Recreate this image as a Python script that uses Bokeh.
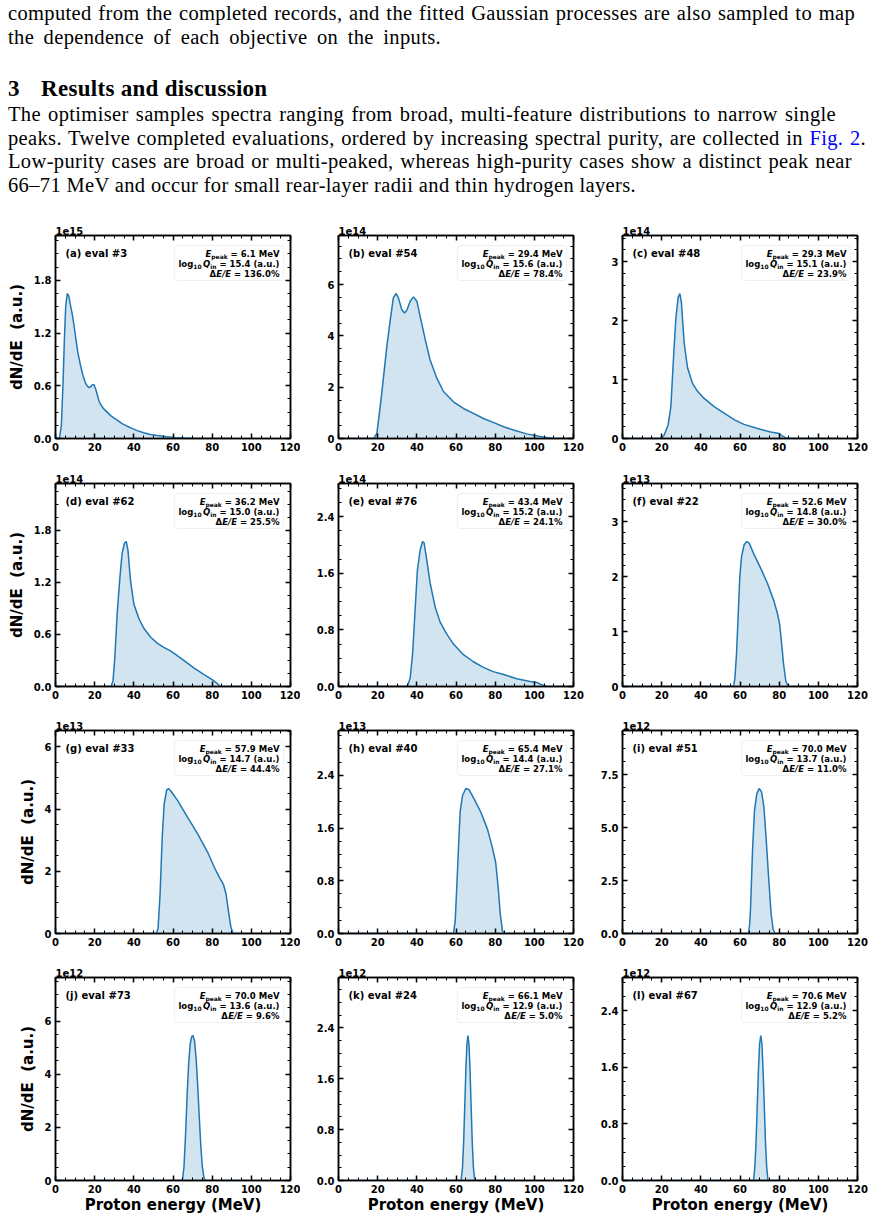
from bokeh.plotting import figure
from bokeh.models import (Range1d, LinearAxis, FixedTicker, Label, BoxAnnotation,
                          Div, PrintfTickFormatter)
from bokeh.layouts import column, row
from bokeh.embed import file_html
from bokeh.resources import INLINE

# ---------------------------------------------------------------------------
# Proton spectra: energy (MeV) and dN/dE in units of 10**scale_exponent
# ---------------------------------------------------------------------------
energy_a = [0, 2.0, 3.0, 3.8, 4.5, 5.2, 6.0, 6.8, 7.6, 8.5, 9.5, 10.5, 11.4, 12.8,
            14.0, 15.3, 16.3, 17.2, 18.0, 18.8, 19.6, 20.4, 21.3, 22.2, 23.0, 24.5,
            26.4, 28.5, 31.5, 34.0, 36.6, 39.0, 41.7, 45.0, 48.5, 52.0, 57.0, 61.0,
            65.5, 70.0, 74.0, 90.0]
dnde_a = [0, 0, 0.15, 0.6, 1.1, 1.5, 1.65, 1.62, 1.52, 1.42, 1.28, 1.12, 0.98, 0.83,
          0.72, 0.63, 0.595, 0.58, 0.59, 0.61, 0.615, 0.57, 0.5, 0.43, 0.39, 0.34,
          0.30, 0.255, 0.21, 0.17, 0.14, 0.115, 0.09, 0.065, 0.046, 0.033, 0.02, 0.012,
          0.005, 0.002, 0, 0]

energy_b = [0, 18.0, 19.6, 21.3, 23.0, 24.7, 26.4, 28.0, 29.4, 30.6, 32.3, 33.7, 34.9,
            36.6, 38.3, 40.0, 41.7, 44.3, 46.8, 50.2, 53.6, 58.7, 63.8, 68.9, 74.0,
            79.0, 84.3, 89.4, 96.0, 103.0, 109.8, 120.0]
dnde_b = [0, 0, 0.2, 1.24, 2.4, 3.6, 4.6, 5.48, 5.65, 5.48, 5.02, 4.89, 5.0, 5.35,
          5.52, 5.35, 4.76, 3.85, 3.06, 2.35, 1.83, 1.43, 1.17, 0.98, 0.78, 0.63,
          0.46, 0.33, 0.18, 0.08, 0, 0]

energy_c = [0, 19.6, 21.3, 23.3, 24.7, 26.0, 27.2, 28.4, 29.3, 30.1, 30.8, 31.5, 33.2,
            35.7, 38.3, 41.7, 46.8, 51.9, 57.0, 62.0, 69.0, 75.7, 80.0, 81.7, 84.3, 110.0]
dnde_c = [0, 0, 0.06, 0.23, 0.54, 1.34, 2.02, 2.39, 2.46, 2.3, 1.95, 1.62, 1.2,
          0.94, 0.8, 0.68, 0.54, 0.43, 0.32, 0.24, 0.17, 0.11, 0.085, 0.04, 0, 0]

energy_d = [0, 28.4, 29.4, 30.3, 31.5, 32.9, 34.0, 35.2, 36.1, 37.0, 38.3, 40.0, 42.6,
            45.1, 48.5, 51.9, 55.3, 58.7, 61.3, 65.5, 70.6, 75.7, 80.0, 81.7, 84.3, 109.0]
dnde_d = [0, 0, 0.07, 0.34, 0.84, 1.26, 1.53, 1.65, 1.67, 1.57, 1.22, 0.95, 0.78,
          0.67, 0.57, 0.5, 0.45, 0.41, 0.37, 0.30, 0.215, 0.14, 0.08, 0.05, 0, 0]

energy_e = [0, 35.2, 36.6, 37.8, 39.1, 40.3, 41.7, 42.9, 43.7, 44.8, 46.8, 49.4, 51.9,
            55.3, 58.7, 63.8, 68.9, 74.0, 79.0, 84.3, 91.0, 97.9, 101.3, 103.8, 106.4, 120.0]
dnde_e = [0, 0, 0.12, 0.45, 1.07, 1.65, 1.93, 2.05, 2.03, 1.84, 1.46, 1.12, 0.91,
          0.74, 0.6, 0.45, 0.35, 0.27, 0.21, 0.17, 0.11, 0.072, 0.057, 0.024, 0, 0]

energy_f = [0, 56.7, 57.4, 58.2, 59.1, 59.9, 60.8, 62.1, 63.5, 64.7, 67.2, 70.6, 74.0,
            77.4, 79.1, 80.3, 81.2, 82.2, 83.4, 84.6, 107.0]
dnde_f = [0, 0, 0.15, 0.58, 1.32, 2.0, 2.37, 2.58, 2.64, 2.61, 2.4, 2.15, 1.88,
          1.55, 1.33, 1.12, 0.8, 0.42, 0.1, 0, 0]

energy_g = [0, 51.6, 52.4, 53.4, 54.5, 55.5, 56.7, 57.7, 58.9, 62.3, 67.4, 72.6, 77.7,
            81.1, 83.6, 85.7, 87.1, 88.3, 89.6, 90.8, 117.8]
dnde_g = [0, 0, 0.19, 1.27, 3.1, 4.17, 4.6, 4.66, 4.58, 4.28, 3.74, 3.2, 2.61,
          2.13, 1.81, 1.59, 1.27, 0.73, 0.19, 0, 0]

energy_h = [0, 58.7, 59.6, 60.4, 61.3, 62.1, 63.3, 65.0, 66.7, 69.3, 72.7, 76.1, 78.6,
            80.3, 81.5, 82.6, 83.7, 84.9, 107.6]
dnde_h = [0, 0, 0.19, 0.71, 1.32, 1.84, 2.09, 2.2, 2.18, 2.04, 1.84, 1.58, 1.3,
          1.07, 0.71, 0.3, 0.04, 0, 0]

energy_i = [0, 64.3, 64.9, 65.4, 66.4, 67.4, 68.6, 69.8, 71.0, 72.2, 73.3, 74.5, 75.9,
            76.9, 77.9, 98.3]
dnde_i = [0, 0, 0.4, 1.23, 3.92, 5.81, 6.6, 6.84, 6.68, 5.97, 4.55, 2.81, 0.92,
          0.2, 0, 0]

energy_j = [0, 64.8, 65.6, 66.4, 67.2, 68.0, 68.8, 69.6, 70.2, 71.0, 71.8, 72.6, 73.4,
            74.2, 75.0, 75.8, 76.6, 98.0]
dnde_j = [0, 0, 0.5, 1.7, 3.2, 4.4, 5.15, 5.43, 5.46, 5.25, 4.6, 3.6, 2.4,
          1.3, 0.5, 0.1, 0, 0]

energy_k = [0, 62.6, 63.3, 63.9, 64.5, 65.1, 65.6, 66.1, 66.6, 67.1, 67.7, 68.3, 68.9,
            69.6, 90.0]
dnde_k = [0, 0, 0.2, 0.6, 1.2, 1.8, 2.15, 2.28, 2.15, 1.8, 1.2, 0.6, 0.2, 0, 0]

energy_l = [0, 66.9, 67.6, 68.2, 68.8, 69.4, 70.0, 70.6, 71.2, 71.8, 72.4, 73.0, 73.6,
            74.3, 97.0]
dnde_l = [0, 0, 0.2, 0.55, 1.05, 1.55, 1.93, 2.05, 1.93, 1.55, 1.05, 0.55, 0.2, 0, 0]

spectra = [(energy_a, dnde_a), (energy_b, dnde_b), (energy_c, dnde_c),
           (energy_d, dnde_d), (energy_e, dnde_e), (energy_f, dnde_f),
           (energy_g, dnde_g), (energy_h, dnde_h), (energy_i, dnde_i),
           (energy_j, dnde_j), (energy_k, dnde_k), (energy_l, dnde_l)]

panel_tags = ["(a) eval #3", "(b) eval #54", "(c) eval #48", "(d) eval #62",
              "(e) eval #76", "(f) eval #22", "(g) eval #33", "(h) eval #40",
              "(i) eval #51", "(j) eval #73", "(k) eval #24", "(l) eval #67"]
e_peak_mev = [6.1, 29.4, 29.3, 36.2, 43.4, 52.6, 57.9, 65.4, 70.0, 70.0, 66.1, 70.6]
log10_q_in = [15.4, 15.6, 15.1, 15.0, 15.2, 14.8, 14.7, 14.4, 13.7, 13.6, 12.9, 12.9]
energy_spread_pct = [136.0, 78.4, 23.9, 25.5, 24.1, 30.0, 44.4, 27.1, 11.0, 9.6, 5.0, 5.2]
scale_exponent = [15, 14, 14, 14, 14, 13, 13, 13, 12, 12, 12, 12]
y_major_step = [0.6, 2, 1, 0.6, 0.8, 1, 2, 0.8, 2.5, 2, 0.8, 0.8]
y_label_decimals = [1, 0, 0, 1, 1, 0, 0, 1, 1, 0, 1, 1]

x_major_ticks = [0, 20, 40, 60, 80, 100, 120]
x_minor_ticks = [5, 10, 15, 25, 30, 35, 45, 50, 55, 65, 70, 75, 85, 90, 95, 105, 110, 115]

x_label = "Proton energy (MeV)"
y_label = "dN/dE\u00a0 (a.u.)"

# ---------------------------------------------------------------------------
# Styling / layout
# ---------------------------------------------------------------------------
FONT = "DejaVu Sans"
BLUE = "#1f77b4"
FRAME_W, FRAME_H = 235, 203
X_MAX = 120
COL_LEFT = [55, 38, 32]
COL_RIGHT = [10, 17, 17]
ROW_TOP = [30, 28, 27, 27]
ROW_BOTTOM = [17, 17, 17, 39]
INFO_SIZE = 8.5
SPACE_EM = 0.348

# advance widths (em) of DejaVu Sans Bold, used to lay out mixed-style text
CHAR_EM = {' ': SPACE_EM, '#': 0.838, '%': 1.002, '(': 0.457, ')': 0.457, '.': 0.380,
           '/': 0.365, '=': 0.838, 'E': 0.683, 'M': 0.995, 'N': 0.837, 'Q': 0.850,
           'V': 0.774, 'a': 0.675, 'd': 0.716, 'e': 0.678, 'g': 0.716, 'i': 0.343,
           'k': 0.665, 'l': 0.343, 'n': 0.712, 'o': 0.687, 'p': 0.716, 'u': 0.712,
           '\u0394': 0.80}
for _d in "0123456789":
    CHAR_EM[_d] = 0.696


def text_width(s, size):
    return sum(CHAR_EM.get(ch, 0.68) for ch in s) * size


def y_ticks(step, top):
    majors, k = [], 0
    while k * step <= top + 1e-9:
        majors.append(round(k * step, 6))
        k += 1
    mant = step / 10 ** int(f"{step:e}".split("e")[1])
    ndiv = 5 if abs(mant - 1) < 1e-6 or abs(mant - 5) < 1e-6 else 4
    minors, k = [], 1
    while k * step / ndiv <= top + 1e-9:
        if k % ndiv:
            minors.append(round(k * step / ndiv, 6))
        k += 1
    return majors, minors


def styled_axis(ticker, formatter, show_labels):
    ax = LinearAxis(
        ticker=ticker, formatter=formatter,
        axis_line_color="black", axis_line_width=1.5,
        major_tick_in=5, major_tick_out=0, major_tick_line_width=1.5,
        major_tick_line_color="black",
        minor_tick_in=3, minor_tick_out=0, minor_tick_line_width=1,
        minor_tick_line_color="black",
        major_label_text_font=FONT, major_label_text_font_style="bold",
        major_label_text_color="black",
        major_label_text_font_size="10px",
        major_label_standoff=4,
    )
    if not show_labels:
        # mirrored axis: ticks only
        ax.major_label_text_font_size = "1px"
        ax.major_label_text_alpha = 0
        ax.major_label_text_color = None
        ax.major_label_standoff = 0
    return ax


def add_info_box(p, i, ymax):
    sub = 2.0
    # (text, font style, size scale, baseline drop in px, gap before in em)
    lines = [
        [("E", "bold italic", 1.0, 0.0, 0.0), ("peak", "bold", 0.7, sub, 0.0),
         (f"= {e_peak_mev[i]:.1f} MeV", "bold", 1.0, 0.0, SPACE_EM)],
        [("log", "bold", 1.0, 0.0, 0.0), ("10", "bold", 0.7, sub, 0.0),
         ("Q", "bold italic", 1.0, 0.0, 0.17), ("in", "bold", 0.7, sub, 0.0),
         (f"= {log10_q_in[i]:.1f} (a.u.)", "bold", 1.0, 0.0, SPACE_EM)],
        [("\u0394", "bold", 1.0, 0.0, 0.0), ("E/E", "bold italic", 1.0, 0.0, 0.0),
         (f"= {energy_spread_pct[i]:.1f}%", "bold", 1.0, 0.0, SPACE_EM)],
    ]
    widths = [sum(text_width(t, INFO_SIZE * sc) + g * INFO_SIZE
                  for t, st, sc, dy, g in segs) for segs in lines]
    wmax = max(widths)
    right_text, pad = 11, 4
    px_x = X_MAX / FRAME_W
    px_y = ymax / FRAME_H
    p.add_layout(BoxAnnotation(
        left=X_MAX - (right_text + wmax + pad) * px_x, right=X_MAX - 7 * px_x,
        top=ymax - 10 * px_y, bottom=ymax - 45 * px_y,
        fill_color="white", fill_alpha=0.8, line_color="#cccccc", line_width=1,
        border_radius=3))
    baselines = [18.8, 28.8, 38.3]
    for segs, w, base in zip(lines, widths, baselines):
        cx = -(right_text + w)
        for t, st, sc, dy, g in segs:
            cx += g * INFO_SIZE
            p.add_layout(Label(
                x=X_MAX, y=ymax, x_offset=cx, y_offset=-(base + dy), text=t,
                text_font=FONT, text_font_style=st,
                text_font_size=f"{INFO_SIZE * sc:.2f}px", text_color="black",
                text_align="left", text_baseline="alphabetic"))
            cx += text_width(t, INFO_SIZE * sc)


def make_panel(i):
    r, c = divmod(i, 3)
    xs, ys = spectra[i]
    ymax = 1.4 * max(ys)
    p = figure(frame_width=FRAME_W, frame_height=FRAME_H,
               min_border_left=COL_LEFT[c], min_border_right=COL_RIGHT[c],
               min_border_top=ROW_TOP[r], min_border_bottom=ROW_BOTTOM[r],
               x_range=Range1d(0, X_MAX), y_range=Range1d(0, ymax),
               x_axis_type=None, y_axis_type=None,
               output_backend="svg", toolbar_location=None,
               background_fill_color="white", border_fill_color="white")
    p.outline_line_color = "black"
    p.outline_line_width = 1.5

    # offset multiplier shown above the frame
    p.title.text = f"1e{scale_exponent[i]}"
    p.title.align = "left"
    p.title.text_font = FONT
    p.title.text_font_style = "bold"
    p.title.text_font_size = "10px"
    p.title.text_color = "black"
    p.title.standoff = 1
    p.title.offset = 0

    xt = FixedTicker(ticks=x_major_ticks, minor_ticks=x_minor_ticks)
    majors, minors = y_ticks(y_major_step[i], ymax)
    yt = FixedTicker(ticks=majors, minor_ticks=minors)
    xf = PrintfTickFormatter(format="%d")
    yf = PrintfTickFormatter(format=f"%.{y_label_decimals[i]}f")

    bottom = styled_axis(xt, xf, True)
    left = styled_axis(yt, yf, True)
    top = styled_axis(xt, xf, False)
    right = styled_axis(yt, yf, False)
    if r == 3:
        bottom.axis_label = x_label
        bottom.axis_label_text_font = FONT
        bottom.axis_label_text_font_style = "bold"
        bottom.axis_label_text_font_size = "15px"
        bottom.axis_label_text_color = "black"
        bottom.axis_label_standoff = 0
    if c == 0:
        left.axis_label = y_label
        left.axis_label_text_font = FONT
        left.axis_label_text_font_style = "bold"
        left.axis_label_text_font_size = "15px"
        left.axis_label_text_color = "black"
        left.axis_label_standoff = 5
    p.add_layout(bottom, "below")
    p.add_layout(left, "left")
    p.add_layout(top, "above")
    p.add_layout(right, "right")

    p.varea(x=xs, y1=0, y2=ys, fill_color=BLUE, fill_alpha=0.2)
    p.line(xs, ys, line_color=BLUE, line_width=1.5)

    # panel tag
    p.add_layout(Label(x=0, y=ymax, x_offset=10, y_offset=-18, text=panel_tags[i],
                       text_font=FONT, text_font_style="bold", text_font_size="10px",
                       text_color="black", text_baseline="middle"))
    add_info_box(p, i, ymax)
    return p


# ---------------------------------------------------------------------------
# Running text above the figure
# ---------------------------------------------------------------------------
SERIF = "'Liberation Serif', serif"


def text_line(top, right, html, size=20.5, left=8, bold=False, spacing=0.35):
    style = (f"position:absolute;left:{left}px;top:{top}px;width:{right - left}px;"
             f"height:16px;line-height:16px;font-size:{size}px;white-space:nowrap;"
             f"letter-spacing:{spacing}px;font-family:{SERIF};color:#000;"
             "text-align:justify;text-align-last:justify;")
    if bold:
        style += "font-weight:bold;"
    return f'<div style="{style}">{html}</div>'


body = "".join([
    text_line(4.5, 855, "computed from the completed records, and the fitted Gaussian "
                        "processes are also sampled to map"),
    text_line(29, 441, "the dependence of each objective on the inputs."),
    text_line(81, 24, "3", size=23, bold=True, spacing=0),
    text_line(81, 266, "Results and discussion", size=23, left=41, bold=True,
              spacing=0.3),
    text_line(105.5, 836, "The optimiser samples spectra ranging from broad, "
                          "multi-feature distributions to narrow single"),
    text_line(129.5, 866, "peaks. Twelve completed evaluations, ordered by increasing "
                          "spectral purity, are collected in "
                          "<span style='color:#0000ff'>Fig.&nbsp;2</span>."),
    text_line(153, 852, "Low-purity cases are broad or multi-peaked, whereas "
                        "high-purity cases show a distinct peak near"),
    text_line(176.5, 636, "66\u201371 MeV and occur for small rear-layer radii and "
                          "thin hydrogen layers."),
])
intro = Div(text=f'<div style="position:relative;width:874px;height:205px;">{body}</div>',
            width=874, height=205, margin=0)

panels = [make_panel(i) for i in range(12)]
rows = [row(*panels[3 * k:3 * k + 3], spacing=0) for k in range(4)]
page = column(intro, *rows, spacing=0)

open("out.html", "w").write(file_html(page, INLINE))
